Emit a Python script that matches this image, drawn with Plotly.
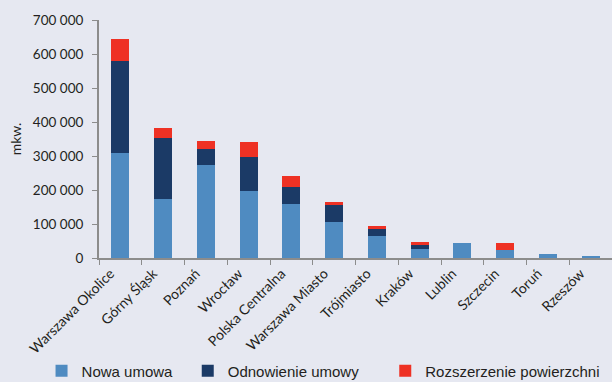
import plotly.graph_objects as go

# Dane (mkw.)
regiony = [
    "Warszawa Okolice", "Górny Śląsk", "Poznań", "Wrocław", "Polska Centralna",
    "Warszawa Miasto", "Trójmiasto", "Kraków", "Lublin", "Szczecin", "Toruń", "Rzeszów",
]
nowa_umowa = [310000, 175000, 274000, 198000, 160000, 106000, 66000, 26000, 43000, 25000, 11000, 4000]
odnowienie = [270000, 179000, 46000, 100000, 50000, 50000, 20000, 13000, 0, 0, 0, 0]
rozszerzenie = [65000, 29000, 23000, 44000, 30000, 9000, 8000, 8000, 0, 18000, 0, 0]

COLOR_NOWA = "#4F8BC1"
COLOR_ODN = "#1B3A66"
COLOR_ROZ = "#EE3124"
BG = "#E6E8F1"
TEXT = "#231F20"
AXIS = "#8C8C8C"
FONT = "Lato"

fig = go.Figure()

series = [
    ("Nowa umowa", nowa_umowa, COLOR_NOWA, "legend"),
    ("Odnowienie umowy", odnowienie, COLOR_ODN, "legend2"),
    ("Rozszerzenie powierzchni", rozszerzenie, COLOR_ROZ, "legend3"),
]

for name, vals, color, leg in series:
    fig.add_trace(
        go.Bar(
            name=name,
            x=regiony,
            y=vals,
            marker=dict(color=color, line=dict(width=0)),
            legend=leg,
            hovertemplate="<b>%{x}</b><br>%{y:,} mkw.<extra></extra>",
        )
    )

leg_common = dict(
    orientation="h",
    yanchor="middle",
    y=-0.475,
    xanchor="left",
    font=dict(size=15, family="Liberation Sans", color=TEXT),
    bgcolor="rgba(0,0,0,0)",
    itemwidth=30,
)

fig.update_layout(
    barmode="stack",
    bargap=0.58,
    width=612,
    height=382,
    margin=dict(t=20, b=124, l=99, r=0, autoexpand=False),
    paper_bgcolor=BG,
    plot_bgcolor=BG,
    separators=", ",
    font=dict(family=FONT, color=TEXT),
    showlegend=True,
    legend=dict(x=-0.112, **leg_common),
    legend2=dict(x=0.173, **leg_common),
    legend3=dict(x=0.558, **leg_common),
)

fig.update_yaxes(
    range=[0, 700000],
    dtick=100000,
    tickformat=",d",
    automargin=False,
    showgrid=False,
    zeroline=False,
    showline=True,
    linecolor=AXIS,
    linewidth=2,
    ticks="outside",
    ticklen=5,
    tickcolor=AXIS,
    ticklabelstandoff=6,
    tickfont=dict(size=13.5, family=FONT, color=TEXT),
    title=dict(text="mkw.", font=dict(size=14, family=FONT, color=TEXT), standoff=8),
)

fig.update_xaxes(
    automargin=False,
    showgrid=False,
    showline=True,
    linecolor=AXIS,
    linewidth=2,
    ticks="outside",
    tickson="boundaries",
    ticklen=5,
    tickcolor=AXIS,
    tickangle=-45,
    ticklabelshift=-10,
    tickfont=dict(size=14, family=FONT, color=TEXT),
)

# strona bez domyślnego marginesu body
fig.write_html(
    "out.html",
    config={"displayModeBar": False},
    post_script="document.body.style.margin='0';",
)
